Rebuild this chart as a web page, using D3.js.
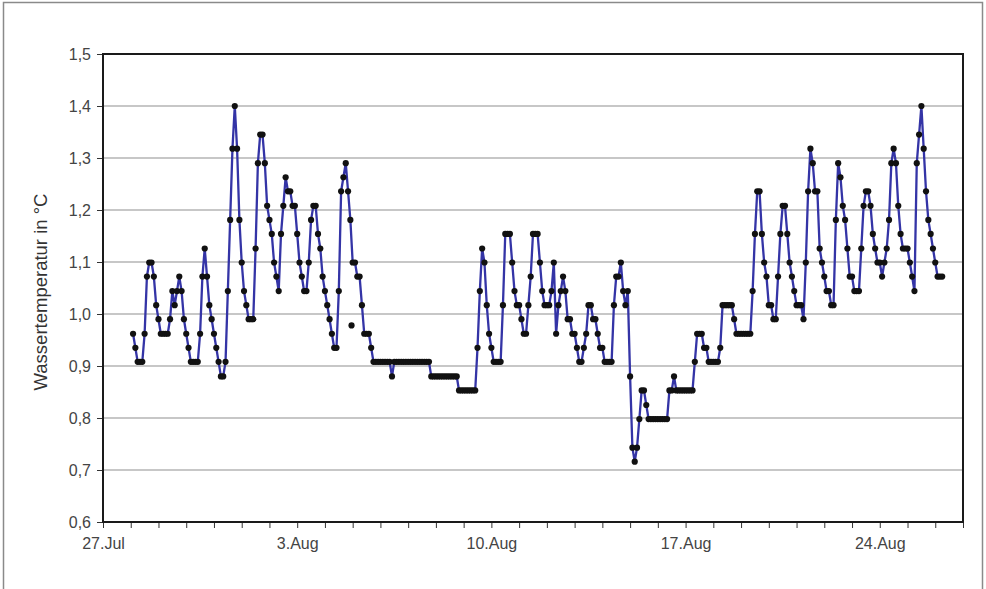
<!DOCTYPE html>
<html>
<head>
<meta charset="utf-8">
<script src="https://cdn.jsdelivr.net/npm/d3@7"></script>
<style>
  body { margin: 0; background: #fff; }
  svg { display: block; }
  text { font-family: "Liberation Sans", Arial, sans-serif; }
</style>
</head>
<body>
<svg id="chart" width="986" height="589"></svg>
<script>
// Water temperature logger: one reading every 2 hours, first reading 28 Jul 02:00
const seriesStart = new Date(2010, 6, 28, 2, 0);
const stepHours = 2;

// Readings in °C, split by logger week
const week1 = [
  0.962, 0.935, 0.908, 0.908, 0.908, 0.962, 1.072, 1.099, 1.099, 1.072,
  1.017, 0.990, 0.962, 0.962, 0.962, 0.962, 0.990, 1.044, 1.017, 1.044,
  1.072, 1.044, 0.990, 0.962, 0.935, 0.908, 0.908, 0.908, 0.908, 0.962,
  1.072, 1.126, 1.072, 1.017, 0.990, 0.962, 0.935, 0.908, 0.880, 0.880,
  0.908, 1.044, 1.181, 1.318, 1.400, 1.318, 1.181, 1.099, 1.044, 1.017,
  0.990, 0.990, 0.990, 1.126, 1.290, 1.345, 1.345, 1.290, 1.208, 1.181,
  1.154, 1.099, 1.072, 1.044, 1.154, 1.208, 1.263, 1.236, 1.236, 1.208,
  1.208, 1.154, 1.099, 1.072, 1.044, 1.044, 1.099, 1.181, 1.208, 1.208,
  1.154, 1.126, 1.072, 1.044
];
const week2 = [
  1.017, 0.990, 0.962, 0.935, 0.935, 1.044, 1.236, 1.263, 1.290, 1.236,
  1.181, 1.099, 1.099, 1.072, 1.072, 1.017, 0.962, 0.962, 0.962, 0.935,
  0.908, 0.908, 0.908, 0.908, 0.908, 0.908, 0.908, 0.908, 0.880, 0.908,
  0.908, 0.908, 0.908, 0.908, 0.908, 0.908, 0.908, 0.908, 0.908, 0.908,
  0.908, 0.908, 0.908, 0.908, 0.908, 0.880, 0.880, 0.880, 0.880, 0.880,
  0.880, 0.880, 0.880, 0.880, 0.880, 0.880, 0.880, 0.853, 0.853, 0.853,
  0.853, 0.853, 0.853, 0.853, 0.853, 0.935, 1.044, 1.126, 1.099, 1.017,
  0.962, 0.935, 0.908, 0.908, 0.908, 0.908, 1.017, 1.154, 1.154, 1.154,
  1.099, 1.044, 1.017, 1.017
];
const week3 = [
  0.990, 0.962, 0.962, 1.017, 1.072, 1.154, 1.154, 1.154, 1.099, 1.044,
  1.017, 1.017, 1.017, 1.044, 1.099, 0.962, 1.017, 1.044, 1.072, 1.044,
  0.990, 0.990, 0.962, 0.962, 0.935, 0.908, 0.908, 0.935, 0.962, 1.017,
  1.017, 0.990, 0.990, 0.962, 0.935, 0.935, 0.908, 0.908, 0.908, 0.908,
  1.017, 1.072, 1.072, 1.099, 1.044, 1.017, 1.044, 0.880, 0.743, 0.716,
  0.743, 0.798, 0.853, 0.853, 0.825, 0.798, 0.798, 0.798, 0.798, 0.798,
  0.798, 0.798, 0.798, 0.798, 0.853, 0.853, 0.880, 0.853, 0.853, 0.853,
  0.853, 0.853, 0.853, 0.853, 0.853, 0.908, 0.962, 0.962, 0.962, 0.935,
  0.935, 0.908, 0.908, 0.908
];
const week4 = [
  0.908, 0.908, 0.935, 1.017, 1.017, 1.017, 1.017, 1.017, 0.990, 0.962,
  0.962, 0.962, 0.962, 0.962, 0.962, 0.962, 1.044, 1.154, 1.236, 1.236,
  1.154, 1.099, 1.072, 1.017, 1.017, 0.990, 0.990, 1.072, 1.154, 1.208,
  1.208, 1.154, 1.099, 1.072, 1.044, 1.017, 1.017, 1.017, 0.990, 1.099,
  1.236, 1.318, 1.290, 1.236, 1.236, 1.126, 1.099, 1.072, 1.044, 1.044,
  1.017, 1.017, 1.181, 1.290, 1.263, 1.208, 1.181, 1.126, 1.072, 1.072,
  1.044, 1.044, 1.044, 1.126, 1.208, 1.236, 1.236, 1.208, 1.154, 1.126,
  1.099, 1.099, 1.072, 1.099, 1.126, 1.181, 1.290, 1.318, 1.290, 1.208,
  1.154, 1.126, 1.126, 1.126
];
const week5 = [
  1.099, 1.072, 1.044, 1.290, 1.345, 1.400, 1.318, 1.236, 1.181, 1.154,
  1.126, 1.099, 1.072, 1.072, 1.072
];

// Single reading logged off the regular 2-hour grid (drawn as a dot only)
const strayTimes = [new Date(2010, 7, 4, 23, 0)];
const strayValues = [0.978];

// Axis settings
const xStart = new Date(2010, 6, 27);
const xEnd = new Date(2010, 7, 27);
const xLabelDates = [new Date(2010, 6, 27), new Date(2010, 7, 3), new Date(2010, 7, 10),
                     new Date(2010, 7, 17), new Date(2010, 7, 24)];
const yTicks = [0.6, 0.7, 0.8, 0.9, 1.0, 1.1, 1.2, 1.3, 1.4, 1.5];
const yTitle = "Wassertemperatur in °C";

const values = [...week1, ...week2, ...week3, ...week4, ...week5];
const readings = values.map((v, i) => ({ t: d3.timeHour.offset(seriesStart, i * stepHours), v }));
const stray = strayTimes.map((t, i) => ({ t, v: strayValues[i] }));

const svg = d3.select("#chart");
const W = 986, H = 589;
const m = { left: 103, right: 23, top: 54, bottom: 67 };

const x = d3.scaleTime().domain([xStart, xEnd]).range([m.left, W - m.right]);
const y = d3.scaleLinear().domain([0.6, 1.5]).range([H - m.bottom, m.top]);

// Outer frame of the figure
svg.append("rect")
  .attr("x", 3.5).attr("y", 2.5).attr("width", W - 7).attr("height", H + 20)
  .attr("fill", "#fff").attr("stroke", "#8a8a8a").attr("stroke-width", 1.5);

// Horizontal grid lines
svg.append("g").selectAll("line")
  .data(yTicks.slice(1, -1))
  .join("line")
  .attr("x1", m.left).attr("x2", W - m.right)
  .attr("y1", d => y(d)).attr("y2", d => y(d))
  .attr("stroke", "#b5b5b5").attr("stroke-width", 1.5);

// Y axis
const yAxis = svg.append("g")
  .attr("transform", `translate(${m.left},0)`)
  .call(d3.axisLeft(y).tickValues(yTicks)
    .tickFormat(d => d.toFixed(1).replace(".", ","))
    .tickSize(6).tickPadding(6));
yAxis.select(".domain").remove();
yAxis.selectAll(".tick line").attr("stroke", "#333");
yAxis.selectAll(".tick text").attr("fill", "#444").style("font-size", "16px");

// X axis: a tick for every day, labels once a week
const fmt = d3.timeFormat("%-d.%b");
const labelKeys = new Set(xLabelDates.map(d => +d));
const xAxis = svg.append("g")
  .attr("transform", `translate(0,${H - m.bottom})`)
  .call(d3.axisBottom(x).ticks(d3.timeDay.every(1))
    .tickFormat(d => labelKeys.has(+d) ? fmt(d) : "")
    .tickSize(6).tickPadding(10));
xAxis.select(".domain").remove();
xAxis.selectAll(".tick line").attr("stroke", "#333");
xAxis.selectAll(".tick text").attr("fill", "#444").style("font-size", "16px");

// Plot frame
svg.append("rect")
  .attr("x", m.left).attr("y", m.top)
  .attr("width", W - m.left - m.right).attr("height", H - m.top - m.bottom)
  .attr("fill", "none").attr("stroke", "#1a1a1a").attr("stroke-width", 2);

// Y axis title
svg.append("text")
  .attr("transform", `translate(47,292) rotate(-90)`)
  .attr("text-anchor", "middle")
  .attr("fill", "#333")
  .style("font-size", "18.5px")
  .text(yTitle);

// Temperature line
const line = d3.line().x(d => x(d.t)).y(d => y(d.v));
svg.append("path")
  .datum(readings)
  .attr("fill", "none")
  .attr("stroke", "#3434a6")
  .attr("stroke-width", 2.3)
  .attr("stroke-linejoin", "round")
  .attr("d", line);

// Reading markers
svg.append("g").selectAll("circle")
  .data(readings.concat(stray))
  .join("circle")
  .attr("cx", d => x(d.t)).attr("cy", d => y(d.v))
  .attr("r", 3.1)
  .attr("fill", "#111");
</script>
</body>
</html>
